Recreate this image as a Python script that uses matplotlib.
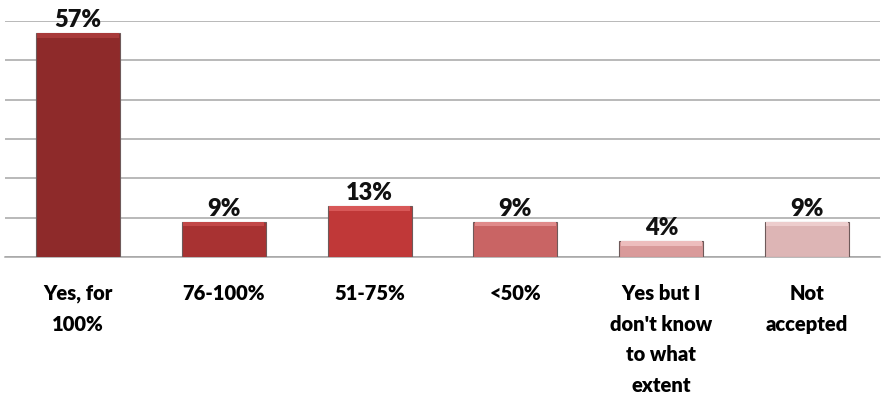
import matplotlib
matplotlib.use("Agg")
import matplotlib.pyplot as plt
import numpy as np
from matplotlib import font_manager

# data
categories = ["Yes, for\n100%", "76-100%", "51-75%", "<50%",
              "Yes but I\ndon't know\nto what\nextent", "Not\naccepted"]
values = [57, 9, 13, 9, 4, 9]
bar_colors = ["#8E2A2A", "#A83232", "#C03838", "#C96464", "#D99A9A", "#DDB5B5"]
top_colors = ["#A83A3A", "#C24848", "#D85858", "#E08A8A", "#EDBDBD", "#EDCDCD"]

names = {f.name for f in font_manager.fontManager.ttflist}
fam = [f for f in ["Lato", "Open Sans", "DejaVu Sans"] if f in names]
plt.rcParams['font.family'] = fam

fig = plt.figure(figsize=(8.83, 4.02), dpi=100)
ax = fig.add_axes([5/883, 1 - 258/402, 875/883, (258 - 22)/402])

x = np.arange(len(values))
w = 0.575
ax.bar(x, values, width=w, color=bar_colors, edgecolor="#6E5A5A", linewidth=0.8, zorder=3)
# bevel highlight along the top of each bar
hl = [min(v * 0.3, 1.2) for v in values]
ax.bar(x, hl, bottom=np.array(values) - np.array(hl), width=w * 0.97,
       color=top_colors, linewidth=0, zorder=4)

for xi, v in zip(x, values):
    ax.annotate(f"{v}%", (xi, v), xytext=(0, 2), textcoords="offset points",
                ha="center", va="bottom", fontsize=17, fontweight="heavy",
                color="#111111", zorder=5, annotation_clip=False)

ax.set_xlim(-0.5, len(values) - 0.5)
ax.set_ylim(0, 60)
ax.set_yticks(np.arange(0, 61, 10))
ax.yaxis.grid(True, color="#A6A6A6", linewidth=1.1, zorder=0)
ax.tick_params(axis="y", left=False, labelleft=False)
ax.set_xticks(x)
ax.set_xticklabels(categories, fontsize=14.5, fontweight="heavy", linespacing=1.72)
ax.tick_params(axis="x", length=0, pad=19)
for s in ["top", "right", "left"]:
    ax.spines[s].set_visible(False)
ax.spines["bottom"].set_color("#A6A6A6")
ax.spines["bottom"].set_linewidth(1.1)

fig.savefig("out.png", dpi=100)
